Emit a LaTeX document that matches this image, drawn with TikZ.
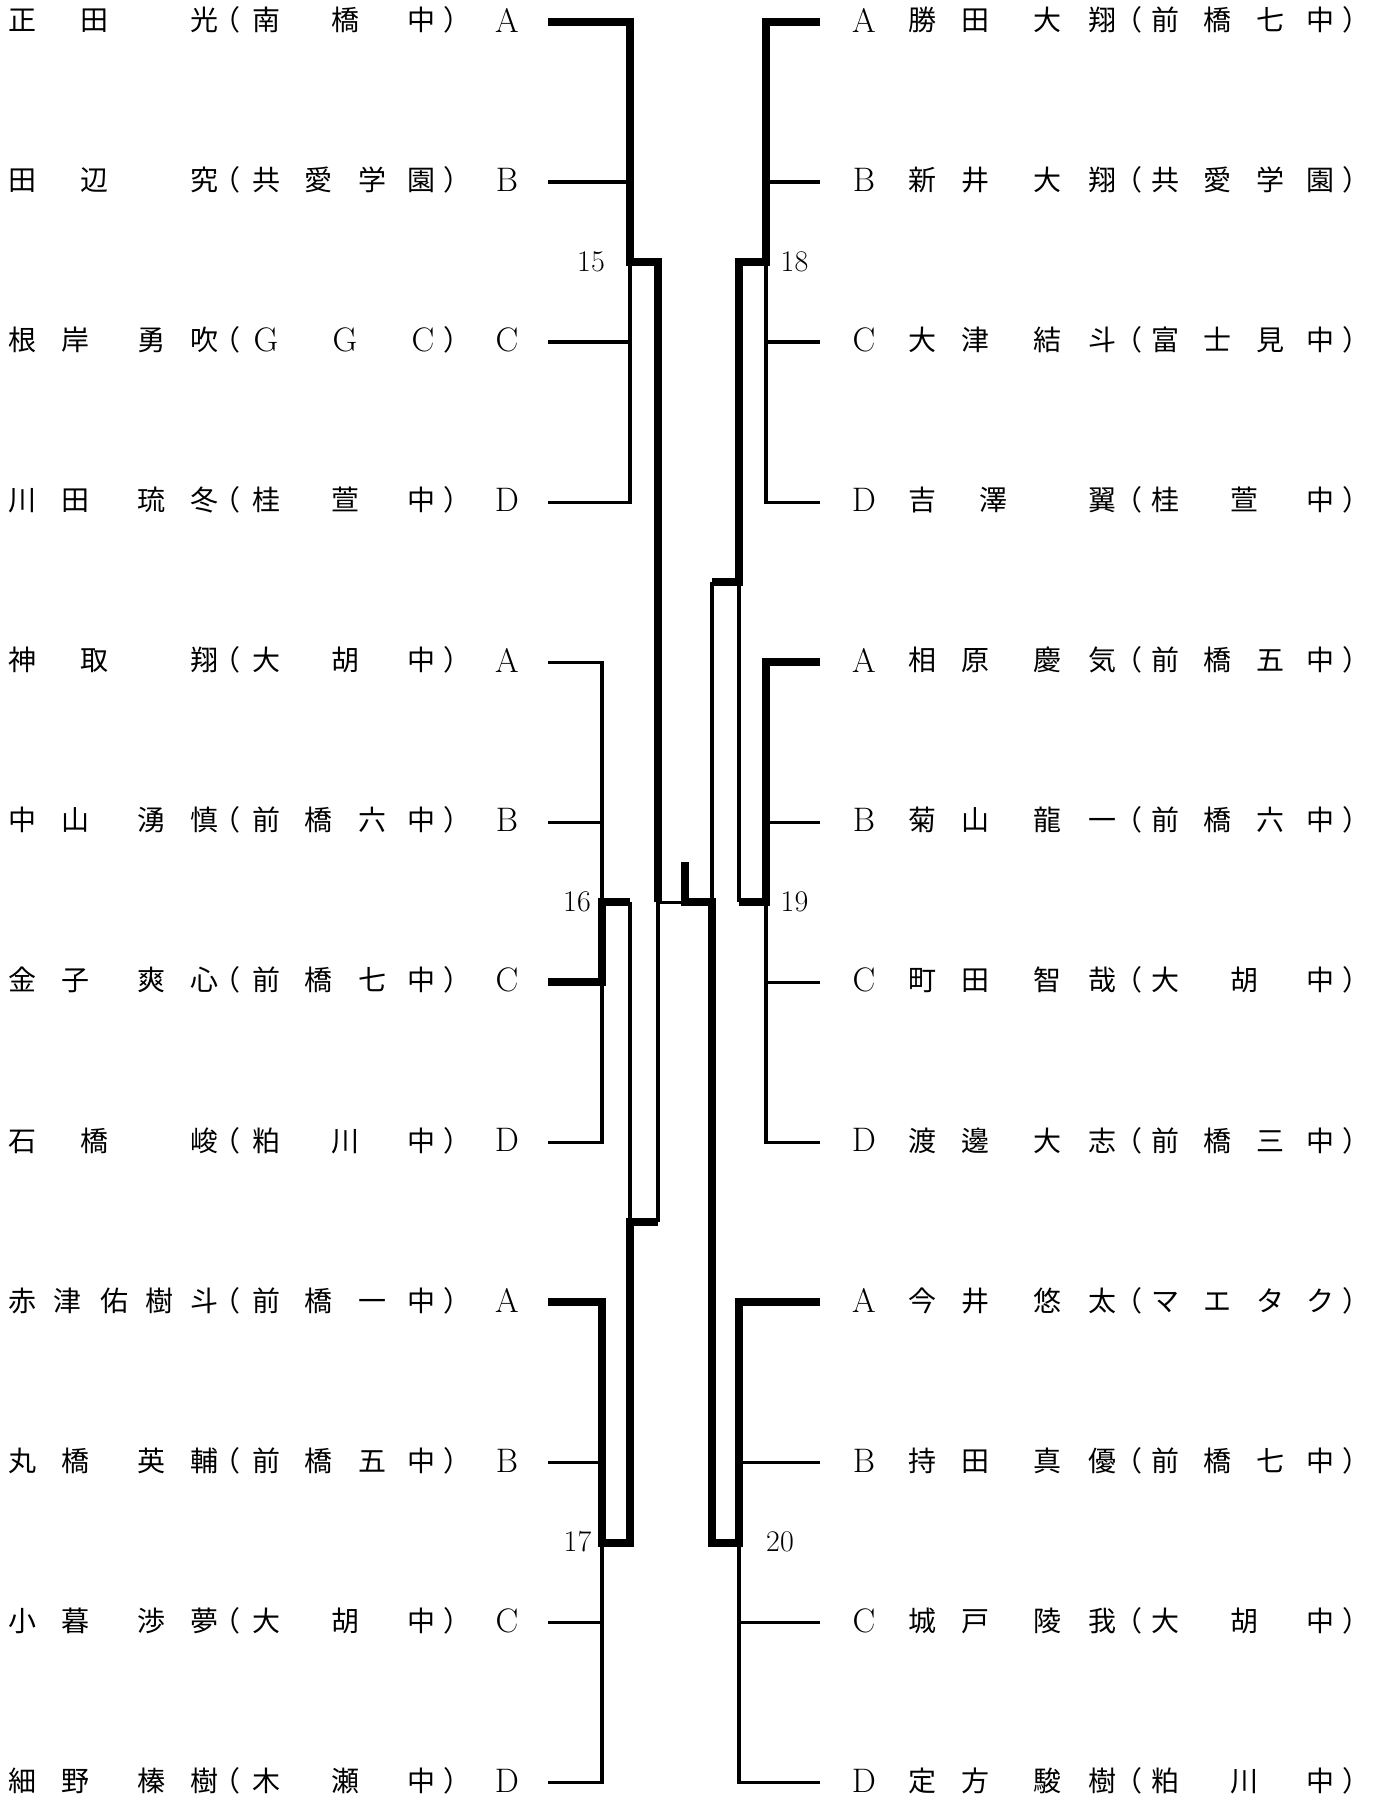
\documentclass[tikz,border=0pt]{standalone}
\usepackage{fontspec}
\newfontfamily\cjkf{Noto Sans CJK JP}
\tikzset{
  lnthin/.style={line width=1.65pt, line join=miter, line cap=butt},
  lnthick/.style={line width=4pt, line join=miter, line cap=butt},
  cj/.style={font=\cjkf\fontsize{14}{14}\selectfont, inner sep=0pt, text height=12.32pt, text depth=1.68pt, anchor=center},
  lt/.style={font=\fontsize{17}{17}\selectfont, inner sep=0pt, anchor=center},
  num/.style={font=\fontsize{15}{15}\selectfont, inner sep=0pt, anchor=center},
}
\newcommand\tx[3]{\foreach \xx/\cc in {#3}{\node[cj] (#2#1-\xx) at (\xx,{20+160.05*(#1-1)}) {\cc};}}
\newcommand\mylet[4]{\node[lt] (#1) at (#2,{20+160.05*(#3-1)}) {#4};}
\begin{document}
\begin{tikzpicture}[x=0.5pt,y=-0.5pt]
\useasboundingbox (0,0) rectangle (1373,1797);
\fill[white] (0,0) rectangle (1373,1797);
% ---------- left texts ----------
\tx{1}{L}{23/正,94/田,204/光,226/（,266/南,345/橋,421/中,457/）}
\tx{2}{L}{23/田,94/辺,204/究,226/（,266/共,318/愛,372/学,421/園,457/）}
\tx{3}{L}{23/根,75/岸,151/勇,204/吹,226/（,457/）}
\mylet{Lg1}{266}{3}{G}\mylet{Lg2}{345}{3}{G}\mylet{Lg3}{423}{3}{C}
\tx{4}{L}{23/川,75/田,151/琉,204/冬,226/（,266/桂,345/萱,421/中,457/）}
\tx{5}{L}{23/神,94/取,204/翔,226/（,266/大,345/胡,421/中,457/）}
\tx{6}{L}{23/中,75/山,151/湧,204/慎,226/（,266/前,318/橋,372/六,421/中,457/）}
\tx{7}{L}{23/金,75/子,151/爽,204/心,226/（,266/前,318/橋,372/七,421/中,457/）}
\tx{8}{L}{23/石,94/橋,204/峻,226/（,266/粕,345/川,421/中,457/）}
\tx{9}{L}{23/赤,68/津,114/佑,159/樹,204/斗,226/（,266/前,318/橋,372/一,421/中,457/）}
\tx{10}{L}{23/丸,75/橋,151/英,204/輔,226/（,266/前,318/橋,372/五,421/中,457/）}
\tx{11}{L}{23/小,75/暮,151/渉,204/夢,226/（,266/大,345/胡,421/中,457/）}
\tx{12}{L}{23/細,75/野,151/榛,204/樹,226/（,266/木,345/瀬,421/中,457/）}
\mylet{La1}{507}{1}{A}\mylet{La2}{507}{2}{B}\mylet{La3}{507}{3}{C}\mylet{La4}{507}{4}{D}
\mylet{La5}{507}{5}{A}\mylet{La6}{507}{6}{B}\mylet{La7}{507}{7}{C}\mylet{La8}{507}{8}{D}
\mylet{La9}{507}{9}{A}\mylet{La10}{507}{10}{B}\mylet{La11}{507}{11}{C}\mylet{La12}{507}{12}{D}
% ---------- right texts ----------
\tx{1}{R}{922/勝,975/田,1047/大,1102/翔,1128/（,1165/前,1217/橋,1270/七,1320/中,1356/）}
\tx{2}{R}{922/新,975/井,1047/大,1102/翔,1128/（,1165/共,1217/愛,1270/学,1320/園,1356/）}
\tx{3}{R}{922/大,975/津,1047/結,1102/斗,1128/（,1165/富,1217/士,1270/見,1320/中,1356/）}
\tx{4}{R}{922/吉,993/澤,1102/翼,1128/（,1165/桂,1244/萱,1320/中,1356/）}
\tx{5}{R}{922/相,975/原,1047/慶,1102/気,1128/（,1165/前,1217/橋,1270/五,1320/中,1356/）}
\tx{6}{R}{922/菊,975/山,1047/龍,1102/一,1128/（,1165/前,1217/橋,1270/六,1320/中,1356/）}
\tx{7}{R}{922/町,975/田,1047/智,1102/哉,1128/（,1165/大,1244/胡,1320/中,1356/）}
\tx{8}{R}{922/渡,975/邊,1047/大,1102/志,1128/（,1165/前,1217/橋,1270/三,1320/中,1356/）}
\tx{9}{R}{922/今,975/井,1047/悠,1102/太,1128/（,1165/マ,1217/エ,1270/タ,1320/ク,1356/）}
\tx{10}{R}{922/持,975/田,1047/真,1102/優,1128/（,1165/前,1217/橋,1270/七,1320/中,1356/）}
\tx{11}{R}{922/城,975/戸,1047/陵,1102/我,1128/（,1165/大,1244/胡,1320/中,1356/）}
\tx{12}{R}{922/定,975/方,1047/駿,1102/樹,1128/（,1165/粕,1244/川,1320/中,1356/）}
\mylet{Ra1}{864}{1}{A}\mylet{Ra2}{864}{2}{B}\mylet{Ra3}{864}{3}{C}\mylet{Ra4}{864}{4}{D}
\mylet{Ra5}{864}{5}{A}\mylet{Ra6}{864}{6}{B}\mylet{Ra7}{864}{7}{C}\mylet{Ra8}{864}{8}{D}
\mylet{Ra9}{864}{9}{A}\mylet{Ra10}{864}{10}{B}\mylet{Ra11}{864}{11}{C}\mylet{Ra12}{864}{12}{D}
% ---------- match numbers ----------
\node[num] (n15) at (591,262) {15};
\node[num] (n16) at (577,902) {16};
\node[num] (n17) at (577.5,1542) {17};
\node[num] (n18) at (794.5,262) {18};
\node[num] (n19) at (794.5,902) {19};
\node[num] (n20) at (780,1542) {20};
% ---------- coordinates ----------
\foreach \i in {1,...,12}{
  \coordinate (L\i) at (548,{22+160.05*(\i-1)});
  \coordinate (R\i) at (820,{22+160.05*(\i-1)});
}
\coordinate (m15) at (630,262.1);
\coordinate (m16) at (602,902.3);
\coordinate (m17) at (602,1542.5);
\coordinate (m18) at (766,262.1);
\coordinate (m19) at (766,902.3);
\coordinate (m20) at (739,1542.5);
\coordinate (sL) at (630,1222.4);
\coordinate (sR) at (739,582.2);
\coordinate (qL) at (658,902.3);
\coordinate (qR) at (712,902.3);
\coordinate (F) at (685,902.3);
\coordinate (Ft) at (685,862);
% ---------- thin lines ----------
\draw[lnthin] (L2) -- (L2 -| m15) (L3) -- (L3 -| m15) (L4) -| (m15);
\draw[lnthin] (L5) -| (m16) (L6) -- (L6 -| m16) (L8) -| (m16);
\draw[lnthin] (m16 -| sL) -- (sL);
\draw[lnthin] (L10) -- (L10 -| m17) (L11) -- (L11 -| m17) (L12) -| (m17);
\draw[lnthin] (sL -| qL) -- (qL) -- (F);
\draw[lnthin] (R2) -- (R2 -| m18) (R3) -- (R3 -| m18) (R4) -| (m18);
\draw[lnthin] (R6) -- (R6 -| m19) (R7) -- (R7 -| m19) (R8) -| (m19);
\draw[lnthin] (m19 -| sR) -- (sR);
\draw[lnthin] (sR -| qR) -- (qR);
\draw[lnthin] (R10) -- (R10 -| m20) (R11) -- (R11 -| m20) (R12) -| (m20);
% ---------- thick (winner) lines ----------
\draw[lnthick] (L1) -| (m15) -- (m15 -| qL) -- (qL);
\draw[lnthick] (L7) -| (m16) -- (m16 -| sL);
\draw[lnthick] (L9) -| (m17) -- (m17 -| sL) -- (sL) -- (sL -| qL);
\draw[lnthick] (R1) -| (m18) -- (m18 -| sR) -- (sR) -- (sR -| qR);
\draw[lnthick] (R5) -| (m19) -- (m19 -| sR);
\draw[lnthick] (R9) -| (m20) -- (m20 -| qR) -- (qR) -- (F) -- (Ft);
\end{tikzpicture}
\end{document}
